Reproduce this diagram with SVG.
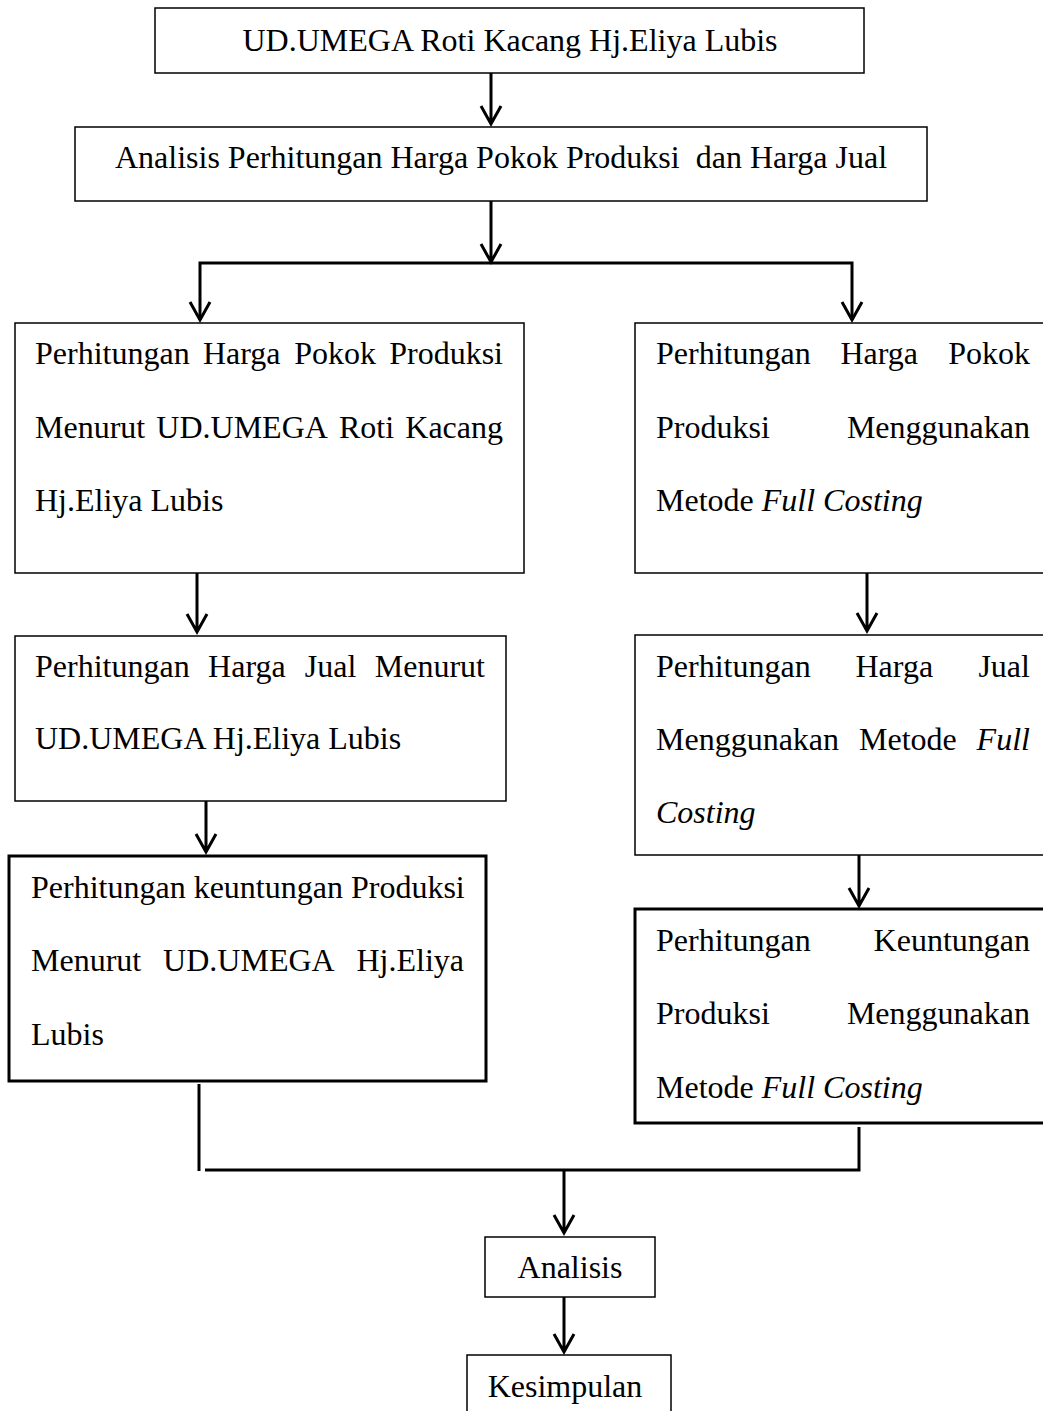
<svg xmlns="http://www.w3.org/2000/svg" width="1043" height="1411" viewBox="0 0 1043 1411">
<style>
.box{fill:#fff;stroke:#000;stroke-width:1.5}
.thick{stroke-width:3}
text{font-family:"Liberation Serif","Times New Roman",serif;font-size:32px;fill:#000}
.it{font-style:italic}
.c{text-anchor:middle}
.conn path{fill:none;stroke:#000;stroke-width:3}
</style>
<rect width="1043" height="1411" fill="#fff"/>
<g id="n1"><rect class="box" x="155" y="8" width="709" height="65"/><text class="c" x="510" y="51">UD.UMEGA Roti Kacang Hj.Eliya Lubis</text></g>
<g id="n2"><rect class="box" x="75" y="127" width="852" height="74"/><text class="c" x="501" y="168" xml:space="preserve">Analisis Perhitungan Harga Pokok Produksi  dan Harga Jual</text></g>
<g id="n3"><rect class="box" x="15" y="323" width="509" height="250"/>
<text y="364"><tspan x="35">Perhitungan</tspan><tspan x="202.9">Harga</tspan><tspan x="294.2">Pokok</tspan><tspan x="389.2">Produksi</tspan></text>
<text y="438"><tspan x="35">Menurut</tspan><tspan x="156.3">UD.UMEGA</tspan><tspan x="339">Roti</tspan><tspan x="405.3">Kacang</tspan></text>
<text x="35" y="511">Hj.Eliya Lubis</text></g>
<g id="n4"><rect class="box" x="635" y="323" width="420" height="250"/>
<text y="364"><tspan x="656">Perhitungan</tspan><tspan x="840.4">Harga</tspan><tspan x="948.2">Pokok</tspan></text>
<text y="438"><tspan x="656">Produksi</tspan><tspan x="846.9">Menggunakan</tspan></text>
<text x="656" y="511">Metode <tspan class="it">Full Costing</tspan></text></g>
<g id="n5"><rect class="box" x="15" y="636" width="491" height="165"/>
<text y="677"><tspan x="35">Perhitungan</tspan><tspan x="208.1">Harga</tspan><tspan x="304.8">Jual</tspan><tspan x="374.8">Menurut</tspan></text>
<text x="35" y="749">UD.UMEGA Hj.Eliya Lubis</text></g>
<g id="n6"><rect class="box" x="635" y="635" width="420" height="220"/>
<text y="677"><tspan x="656">Perhitungan</tspan><tspan x="855.5">Harga</tspan><tspan x="978.4">Jual</tspan></text>
<text y="750"><tspan x="656">Menggunakan</tspan><tspan x="859">Metode</tspan><tspan x="976.6" class="it">Full</tspan></text>
<text class="it" x="656" y="823">Costing</text></g>
<g id="n7"><rect class="box thick" x="9" y="856" width="477" height="225"/>
<text x="31" y="898">Perhitungan keuntungan Produksi</text>
<text y="971"><tspan x="31">Menurut</tspan><tspan x="163.1">UD.UMEGA</tspan><tspan x="356.5">Hj.Eliya</tspan></text>
<text x="31" y="1045">Lubis</text></g>
<g id="n8"><rect class="box thick" x="635" y="909" width="420" height="214"/>
<text y="951"><tspan x="656">Perhitungan</tspan><tspan x="873.6">Keuntungan</tspan></text>
<text y="1024"><tspan x="656">Produksi</tspan><tspan x="846.9">Menggunakan</tspan></text>
<text x="656" y="1098">Metode <tspan class="it">Full Costing</tspan></text></g>
<g id="n9"><rect class="box" x="485" y="1237" width="170" height="60"/><text class="c" x="570" y="1278">Analisis</text></g>
<g id="n10"><rect class="box" x="467" y="1355" width="204" height="70"/><text class="c" x="565" y="1397">Kesimpulan</text></g>
<g class="conn" id="connectors">
<path d="M491 73V124M481 106L491 124L501 106"/>
<path d="M491 201V262M481 244L491 262L501 244"/>
<path d="M200 320V263H852V320"/>
<path d="M190 302L200 320L210 302M842 302L852 320L862 302"/>
<path d="M197 573V632M187 614L197 632L207 614"/>
<path d="M206 801V852M196 834L206 852L216 834"/>
<path d="M867 573V631M857 613L867 631L877 613"/>
<path d="M859 855V906M849 888L859 906L869 888"/>
<path d="M199 1084V1171"/>
<path d="M205 1170H859V1127"/>
<path d="M564 1170V1233M554 1215L564 1233L574 1215"/>
<path d="M564 1297V1352M554 1334L564 1352L574 1334"/>
</g>
</svg>
